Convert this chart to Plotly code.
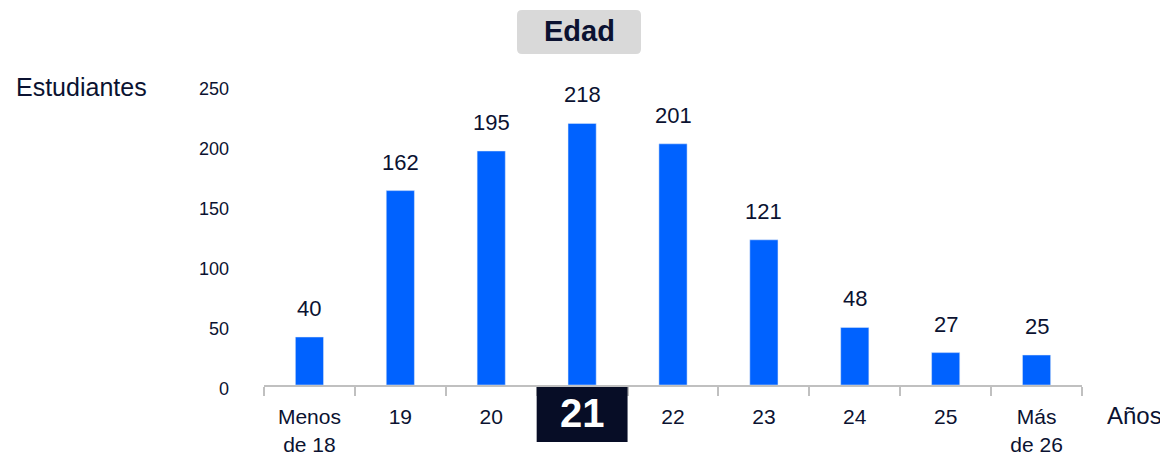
import plotly.graph_objects as go

categories = ["Menos de 18", "19", "20", "21", "22", "23", "24", "25", "Más de 26"]
tick_labels = ["Menos<br>de 18", "19", "20", "", "22", "23", "24", "25", "Más<br>de 26"]
students = [40, 162, 195, 218, 201, 121, 48, 27, 25]
highlight_label = "21"
y_ticks = [0, 50, 100, 150, 200, 250]

TXT = "#0b1231"
BLUE = "#0062ff"
FONT = "Liberation Sans, Arial, sans-serif"

# page body margin offset (default 8px) -> figure sized to fit the window
OFF = 8
W, H = 1168 - OFF, 456 - OFF
# plot area in screen pixels: x 264..1082, y 85..385
SX0, SX1, SY0, SY1 = 264, 1082, 85, 385
L, T = SX0 - OFF, SY0 - OFF
R, B = W - (SX1 - OFF), H - (SY1 - OFF)
PW, PH = SX1 - SX0, SY1 - SY0

def px(x):
    return (x - SX0) / PW

def py(y):
    return (SY1 - y) / PH

hi = categories.index(highlight_label)

fig = go.Figure()
fig.add_trace(go.Bar(
    x=categories, y=students, marker_color=BLUE, width=0.31,
    hoverinfo="x+y",
))

annotations = []
for i, v in enumerate(students):
    annotations.append(dict(
        x=i, y=v, xref="x", yref="y", text=str(v), showarrow=False,
        yanchor="bottom", yshift=14, font=dict(size=22, color=TXT, family=FONT),
    ))

# highlighted "21" label
annotations.append(dict(
    x=hi, y=py(413), xref="x", yref="paper", text="<b>" + highlight_label + "</b>",
    showarrow=False, yanchor="middle", font=dict(size=40, color="white", family=FONT),
))
annotations.append(dict(
    x=px(14), y=py(87), xref="paper", yref="paper", text="Estudiantes",
    showarrow=False, xanchor="left", yanchor="middle",
    font=dict(size=25, color=TXT, family=FONT),
))
annotations.append(dict(
    x=px(1105), y=py(415), xref="paper", yref="paper", text="Años",
    showarrow=False, xanchor="left", yanchor="middle",
    font=dict(size=24, color=TXT, family=FONT),
))
annotations.append(dict(
    x=px(579), y=py(31), xref="paper", yref="paper", text="<b>Edad</b>",
    showarrow=False, xanchor="center", yanchor="middle",
    font=dict(size=29, color=TXT, family=FONT),
))

# rounded grey title box
x0, x1, y0, y1, r = 517, 641, 10, 54, 5
def P(x, y):
    return f"{px(x):.5f},{py(y):.5f}"
path = (f"M {P(x0 + r, y0)} L {P(x1 - r, y0)} Q {P(x1, y0)} {P(x1, y0 + r)} "
        f"L {P(x1, y1 - r)} Q {P(x1, y1)} {P(x1 - r, y1)} "
        f"L {P(x0 + r, y1)} Q {P(x0, y1)} {P(x0, y1 - r)} "
        f"L {P(x0, y0 + r)} Q {P(x0, y0)} {P(x0 + r, y0)} Z")

shapes = [
    dict(type="path", path=path, xref="paper", yref="paper",
         fillcolor="#d9d9d9", line=dict(width=0), layer="below"),
    dict(type="rect", xref="x", yref="paper", x0=hi - 0.5, x1=hi + 0.5,
         y0=py(442), y1=py(387), fillcolor="#070d26", line=dict(width=0), layer="above"),
]

fig.update_layout(
    width=W, height=H, margin=dict(l=L, r=R, t=T, b=B, pad=0, autoexpand=False),
    paper_bgcolor="white", plot_bgcolor="white", showlegend=False,
    font=dict(family=FONT, color=TXT),
    annotations=annotations, shapes=shapes,
    xaxis=dict(
        type="category", range=[-0.5, len(categories) - 0.5], automargin=False,
        tickmode="array", tickvals=categories, ticktext=tick_labels, tickangle=0,
        showline=True, linecolor="#c0c0c0", linewidth=2,
        ticks="outside", tickson="boundaries", ticklen=9, tickwidth=2, tickcolor="#c0c0c0",
        tickfont=dict(size=21, color=TXT, family=FONT), ticklabelstandoff=12,
        showgrid=False, zeroline=False, fixedrange=True,
    ),
    yaxis=dict(
        range=[0, 250], tickmode="array", tickvals=y_ticks, automargin=False,
        showgrid=False, zeroline=False, showline=False, ticks="",
        tickfont=dict(size=18, color=TXT, family=FONT),
        ticklabelstandoff=34, ticklabelshift=4, fixedrange=True,
    ),
)

fig.write_html("out.html")
